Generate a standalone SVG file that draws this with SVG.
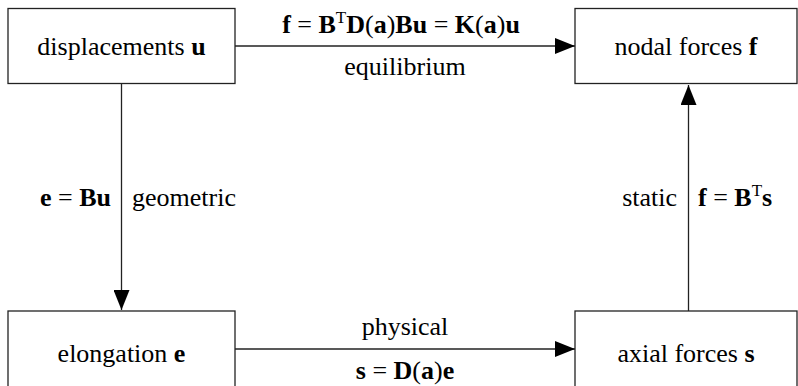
<svg xmlns="http://www.w3.org/2000/svg" width="798" height="386" viewBox="0 0 798 386">
<defs>
<marker id="ah" markerWidth="20" markerHeight="16" refX="20" refY="8" orient="auto" markerUnits="userSpaceOnUse">
<path d="M0,0 L20,8 L0,16 Z" fill="#000"/>
</marker>
</defs>
<g id="connectors" fill="none" stroke="#222" stroke-width="1.3">
<line x1="235" y1="46" x2="575" y2="46" marker-end="url(#ah)"/>
<line x1="121.5" y1="84" x2="121.5" y2="310" marker-end="url(#ah)"/>
<line x1="235" y1="349" x2="575" y2="349" marker-end="url(#ah)"/>
<line x1="688.5" y1="311" x2="688.5" y2="85" marker-end="url(#ah)"/>
</g>
<g id="labels">
<text x="401" y="33" text-anchor="middle" font-family="Liberation Serif, serif" font-size="26"><tspan font-weight="bold">f</tspan> = <tspan font-weight="bold">B</tspan><tspan font-size="17" dy="-10">T</tspan><tspan font-weight="bold" dy="10">D</tspan>(<tspan font-weight="bold">a</tspan>)<tspan font-weight="bold">Bu</tspan> = <tspan font-weight="bold">K</tspan>(<tspan font-weight="bold">a</tspan>)<tspan font-weight="bold">u</tspan></text>
<text x="405" y="75" text-anchor="middle" font-family="Liberation Serif, serif" font-size="26">equilibrium</text>
<text x="111" y="206" text-anchor="end" font-family="Liberation Serif, serif" font-size="26"><tspan font-weight="bold">e</tspan> = <tspan font-weight="bold">Bu</tspan></text>
<text x="132" y="206" font-family="Liberation Serif, serif" font-size="26">geometric</text>
<text x="677" y="206" text-anchor="end" font-family="Liberation Serif, serif" font-size="26">static</text>
<text x="698" y="206" font-family="Liberation Serif, serif" font-size="26"><tspan font-weight="bold">f</tspan> = <tspan font-weight="bold">B</tspan><tspan font-size="17" dy="-10">T</tspan><tspan font-weight="bold" dy="10">s</tspan></text>
<text x="405" y="335" text-anchor="middle" font-family="Liberation Serif, serif" font-size="26">physical</text>
<text x="405" y="379" text-anchor="middle" font-family="Liberation Serif, serif" font-size="26"><tspan font-weight="bold">s</tspan> = <tspan font-weight="bold">D</tspan>(<tspan font-weight="bold">a</tspan>)<tspan font-weight="bold">e</tspan></text>
</g>
<g id="displacements">
<rect x="8" y="8.5" width="227" height="75" fill="#fff" stroke="#222" stroke-width="1.3"/>
<text x="121.5" y="55" text-anchor="middle" font-family="Liberation Serif, serif" font-size="26">displacements <tspan font-weight="bold">u</tspan></text>
</g>
<g id="nodal-forces">
<rect x="575" y="8.5" width="222" height="75" fill="#fff" stroke="#222" stroke-width="1.3"/>
<text x="686" y="55" text-anchor="middle" font-family="Liberation Serif, serif" font-size="26">nodal forces <tspan font-weight="bold">f</tspan></text>
</g>
<g id="elongation">
<rect x="8" y="311" width="227" height="90" fill="#fff" stroke="#222" stroke-width="1.3"/>
<text x="121.5" y="362" text-anchor="middle" font-family="Liberation Serif, serif" font-size="26">elongation <tspan font-weight="bold">e</tspan></text>
</g>
<g id="axial-forces">
<rect x="575" y="311" width="222" height="90" fill="#fff" stroke="#222" stroke-width="1.3"/>
<text x="686" y="362" text-anchor="middle" font-family="Liberation Serif, serif" font-size="26">axial forces <tspan font-weight="bold">s</tspan></text>
</g>
</svg>
